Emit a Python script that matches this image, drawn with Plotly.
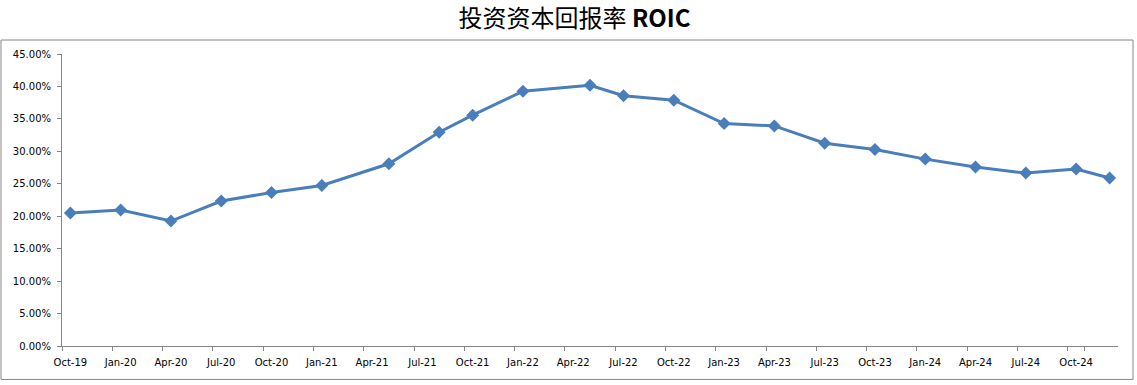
import pandas as pd
import plotly.graph_objects as go

# Data points (month category, ROIC value in %)
dates = ["Oct-19", "Jan-20", "Apr-20", "Jul-20", "Oct-20", "Jan-21", "May-21",
         "Aug-21", "Oct-21", "Jan-22", "May-22", "Jul-22", "Oct-22", "Jan-23",
         "Apr-23", "Jul-23", "Oct-23", "Jan-24", "Apr-24", "Jul-24", "Oct-24", "Dec-24"]
roic = [20.49, 20.95, 19.26, 22.34, 23.66, 24.74, 28.08,
        32.95, 35.57, 39.26, 40.18, 38.58, 37.88, 34.28,
        33.92, 31.26, 30.28, 28.80, 27.57, 26.65, 27.26, 25.88]

# Monthly category axis Oct-19 .. Dec-24, labelled every quarter
months = [d.strftime("%b-%y") for d in pd.date_range("2019-10-01", "2024-12-01", freq="MS")]
tick_labels = months[::3]

y_ticks = [0, 5, 10, 15, 20, 25, 30, 35, 40, 45]
y_tick_text = [f"{v:.2f}%" for v in y_ticks]

fig = go.Figure()
fig.add_trace(go.Scatter(
    x=dates, y=roic, mode="lines+markers",
    line=dict(color="#4A7EBB", width=3),
    marker=dict(symbol="diamond", size=10, color="#4A7EBB"),
    showlegend=False, hoverinfo="x+y",
))

W, H = 1137, 385
L, R, T, B = 62, 19, 54, 38.5
pw, ph = W - L - R, H - T - B

fig.update_layout(
    width=W, height=H,
    margin=dict(l=L, r=R, t=T, b=B, pad=0),
    paper_bgcolor="white", plot_bgcolor="white",
    font=dict(family="DejaVu Sans", size=10, color="#000000"),
    title=dict(
        text="投资资本回报率 <b>ROIC</b>",
        x=574.5 / W, xanchor="center", y=1 - 19 / H, yanchor="middle",
        font=dict(family="Noto Sans CJK SC", size=24, color="#000000"),
    ),
    xaxis=dict(
        type="category", categoryorder="array", categoryarray=months,
        range=[-0.5, len(months) - 0.5],
        tickmode="array", tickvals=tick_labels, ticktext=tick_labels,
        tickson="boundaries", ticks="outside", ticklen=4, tickcolor="#868686",
        showline=True, linecolor="#868686", linewidth=1,
        showgrid=False, zeroline=False, tickangle=0, ticklabelstandoff=7,
        tickfont=dict(family="DejaVu Sans", size=10),
    ),
    yaxis=dict(
        range=[0, 45], tickmode="array", tickvals=y_ticks, ticktext=y_tick_text,
        ticks="outside", ticklen=4, tickcolor="#868686",
        showline=True, linecolor="#868686", linewidth=1,
        showgrid=False, zeroline=False, ticklabelstandoff=4,
        tickfont=dict(family="DejaVu Sans", size=10),
    ),
    shapes=[dict(
        type="rect", xref="paper", yref="paper",
        x0=(1 - L) / pw, x1=(1133 - L) / pw,
        y0=(H - B - 380) / ph, y1=(H - B - 40) / ph,
        line=dict(color="#868686", width=1), fillcolor="rgba(0,0,0,0)", layer="below",
    )],
)

fig.write_html("out.html")
